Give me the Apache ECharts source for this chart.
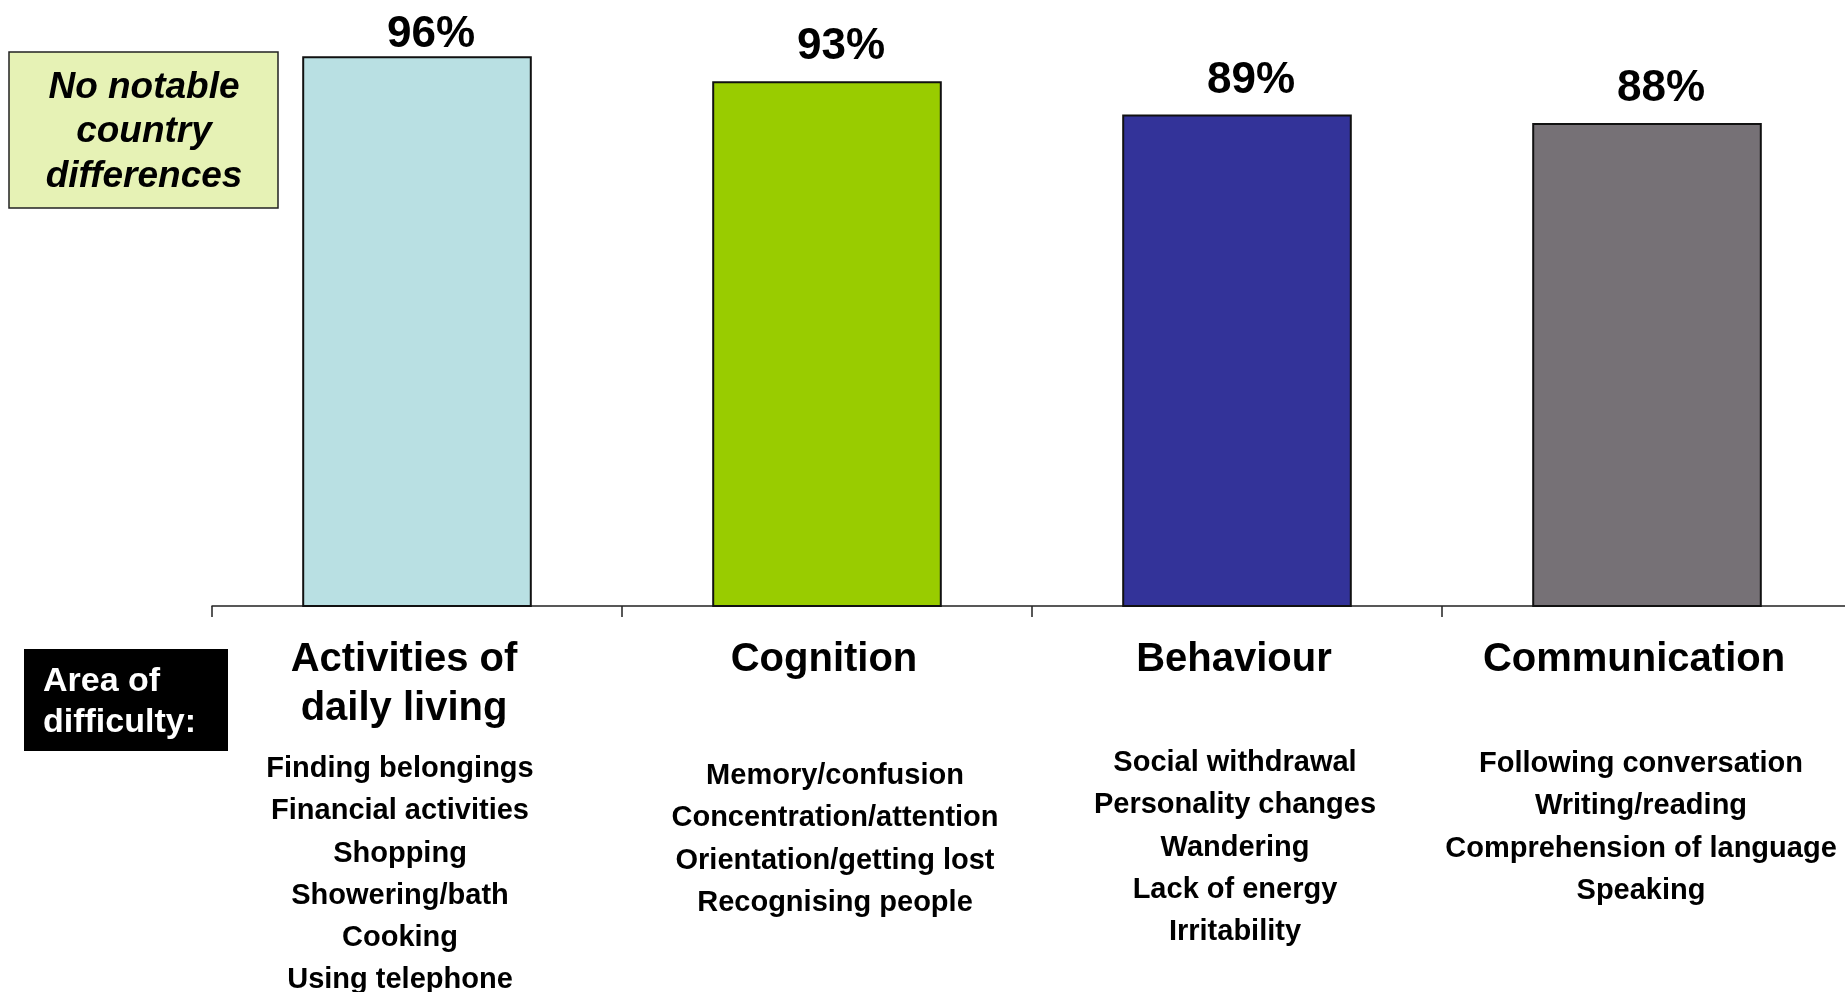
<!DOCTYPE html>
<html>
<head>
<meta charset="utf-8">
<style>
  html, body { margin: 0; padding: 0; background: #ffffff; }
  #chart { width: 1845px; height: 992px; }
</style>
<script src="https://cdn.jsdelivr.net/npm/echarts@6/dist/echarts.min.js"></script>
</head>
<body>
<div id="chart"></div>
<script>
// ---- Data ----
const categories = ['Activities of\ndaily living', 'Cognition', 'Behaviour', 'Communication'];
const values = [96, 93, 89, 88];
const adlItems = ['Finding belongings', 'Financial activities', 'Shopping', 'Showering/bath', 'Cooking', 'Using telephone'];
const cognitionItems = ['Memory/confusion', 'Concentration/attention', 'Orientation/getting lost', 'Recognising people'];
const behaviourItems = ['Social withdrawal', 'Personality changes', 'Wandering', 'Lack of energy', 'Irritability'];
const communicationItems = ['Following conversation', 'Writing/reading', 'Comprehension of language', 'Speaking'];
const noteText = 'No notable\ncountry\ndifferences';
const areaText = 'Area of\ndifficulty:';

// ---- Styling / layout (kept separate from data) ----
const subItems = [adlItems, cognitionItems, behaviourItems, communicationItems];
const barColors = ['#B9E0E3', '#99CC00', '#333399', '#767176'];
const gapHeights = [15, 71, 58, 59];
const headShift = [-13, -3, -3, -13];
const subShift = [-17, 8, -2, -6];
const FONT = '"Liberation Sans", Arial, Helvetica, sans-serif';

function padFor(d) { return d < 0 ? [0, -2 * d, 0, 0] : [0, 0, 0, 2 * d]; }

const chart = echarts.init(document.getElementById('chart'), null, { renderer: 'canvas' });

const rich = {};
for (let i = 0; i < categories.length; i++) {
  rich['h' + i] = { fontFamily: FONT, fontSize: 40, fontWeight: 'bold', lineHeight: 49, color: '#000', padding: padFor(headShift[i]) };
  rich['s' + i] = { fontFamily: FONT, fontSize: 29, fontWeight: 'bold', lineHeight: 42.2, color: '#000', padding: padFor(subShift[i]) };
  rich['g' + i] = { fontSize: 1, lineHeight: gapHeights[i] };
}

const option = {
  animation: false,
  backgroundColor: '#ffffff',
  grid: { left: 212, top: 23, width: 1640, height: 583, containLabel: false, outerBoundsMode: 'none' },
  xAxis: {
    type: 'category',
    data: categories,
    boundaryGap: true,
    axisLine: { show: true, lineStyle: { color: '#222', width: 1.5 } },
    axisTick: { show: true, length: 11, lineStyle: { color: '#222', width: 1.5 } },
    axisLabel: {
      interval: 0,
      margin: 29,
      hideOverlap: false,
      formatter: function (value, index) {
        const head = value.split('\n').map(l => '{h' + index + '|' + l + '}');
        const gap = '{g' + index + '| }';
        const subs = subItems[index].map(s => '{s' + index + '|' + s + '}');
        return head.concat([gap]).concat(subs).join('\n');
      },
      rich: rich
    }
  },
  yAxis: {
    type: 'value',
    min: 30,
    max: 100,
    show: false,
    splitLine: { show: false }
  },
  series: [{
    type: 'bar',
    barWidth: '56%',
    data: values.map((v, i) => ({
      value: v,
      itemStyle: { color: barColors[i] },
      label: i === 0 ? { offset: [14, 13] } : undefined
    })),
    itemStyle: { borderColor: '#111', borderWidth: 2 },
    label: {
      show: true,
      position: 'top',
      distance: 12,
      offset: [14, 0],
      formatter: '{c}%',
      fontFamily: FONT,
      fontSize: 44,
      fontWeight: 'bold',
      color: '#000'
    }
  }],
  graphic: [
    {
      type: 'rect',
      shape: { x: 9, y: 52, width: 269, height: 156 },
      style: { fill: '#E6F2B5', stroke: '#222', lineWidth: 1.5 }
    },
    {
      type: 'text',
      style: {
        text: noteText, x: 144, y: 132,
        align: 'center', verticalAlign: 'middle',
        font: 'italic bold 37px ' + FONT, lineHeight: 44.5, fill: '#000'
      }
    },
    {
      type: 'rect',
      shape: { x: 24, y: 649, width: 204, height: 102 },
      style: { fill: '#000' }
    },
    {
      type: 'text',
      style: {
        text: areaText, x: 43, y: 702.5,
        align: 'left', verticalAlign: 'middle',
        font: 'bold 34px ' + FONT, lineHeight: 41, fill: '#fff'
      }
    }
  ]
};
chart.setOption(option);
</script>
</body>
</html>
